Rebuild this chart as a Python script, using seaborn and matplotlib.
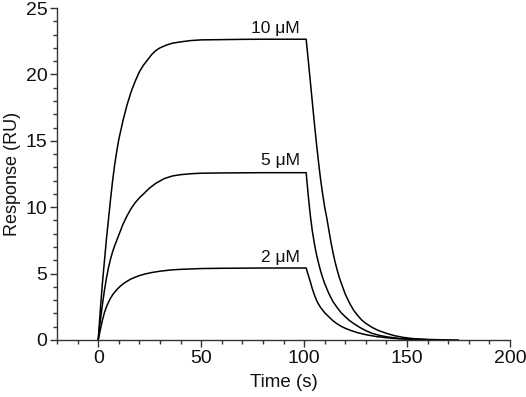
import pandas as pd
import matplotlib
matplotlib.use("Agg")
import matplotlib.pyplot as plt
import seaborn as sns
from matplotlib.ticker import MultipleLocator

# values (time in s, response in RU)
t_10 = [0, 1, 2, 3, 4, 5, 6, 7, 8, 9, 10, 11, 12, 13, 14, 15, 16, 18, 20, 22, 24, 26,
        28, 30, 33, 36, 40, 45, 50, 60, 70, 80, 90, 101,
        102, 103, 104, 105, 106, 107, 108, 109, 110, 111, 112, 113, 114, 115, 116, 117,
        118, 120, 122, 124, 126, 128, 130, 133, 136, 140, 144, 148, 152, 156, 160, 166, 175]
ru_10 = [0, 2.2, 4.2, 5.9, 7.6, 9.1, 10.6, 12.0, 13.2, 14.2, 15.1, 15.8, 16.5, 17.1, 17.7,
         18.2, 18.7, 19.5, 20.2, 20.7, 21.1, 21.5, 21.8, 22.0, 22.2, 22.35, 22.45, 22.55,
         22.6, 22.62, 22.64, 22.65, 22.65, 22.65,
         21.1, 19.5, 17.9, 16.3, 14.8, 13.4, 12.1, 11.0, 10.0, 9.2, 8.3, 7.4, 6.6, 5.9, 5.3,
         4.75, 4.3, 3.45, 2.8, 2.25, 1.85, 1.5, 1.25, 0.95, 0.72, 0.5, 0.32, 0.2, 0.12, 0.07,
         0.04, 0.02, 0]

t_5 = [0, 1, 2, 3, 4, 5, 6, 7, 8, 10, 12, 14, 16, 18, 20, 22, 25, 28, 32, 36, 40, 45, 50,
       60, 80, 101,
       102, 103, 104, 105, 106, 107, 108, 109, 110, 112, 114, 116, 118, 120, 122, 124, 127,
       130, 133, 137, 141, 146, 152, 160, 170]
ru_5 = [0, 1.4, 2.6, 3.7, 4.65, 5.45, 6.1, 6.65, 7.1, 7.9, 8.7, 9.35, 9.9, 10.35, 10.7,
        11.0, 11.45, 11.8, 12.15, 12.35, 12.45, 12.52, 12.56, 12.58, 12.6, 12.6,
        10.9, 9.4, 8.2, 7.25, 6.45, 5.8, 5.2, 4.7, 4.25, 3.5, 2.9, 2.45, 2.05, 1.75, 1.47,
        1.25, 0.95, 0.7, 0.5, 0.33, 0.22, 0.12, 0.06, 0.02, 0]

t_2 = [0, 1, 2, 3, 4, 5, 6, 7, 8, 10, 12, 14, 16, 18, 20, 23, 26, 30, 35, 40, 50, 60, 80,
       101,
       102, 103, 104, 105, 106, 107, 108, 110, 112, 114, 116, 118, 120, 123, 126, 130, 135,
       140, 146, 152, 160, 168]
ru_2 = [0, 0.75, 1.45, 2.05, 2.5, 2.85, 3.15, 3.4, 3.6, 3.95, 4.22, 4.42, 4.6, 4.73, 4.85,
        4.98, 5.08, 5.18, 5.27, 5.32, 5.38, 5.4, 5.42, 5.42,
        4.9, 4.4, 3.85, 3.4, 3.0, 2.7, 2.45, 2.05, 1.75, 1.45, 1.22, 1.03, 0.88, 0.7, 0.55,
        0.4, 0.26, 0.17, 0.09, 0.05, 0.02, 0]

labels = ["10 \u03bcM", "5 \u03bcM", "2 \u03bcM"]

df = pd.concat([
    pd.DataFrame({"time": t_10, "ru": ru_10, "conc": labels[0]}),
    pd.DataFrame({"time": t_5, "ru": ru_5, "conc": labels[1]}),
    pd.DataFrame({"time": t_2, "ru": ru_2, "conc": labels[2]}),
])

sns.set_style("ticks")
plt.rcParams["font.family"] = ["Liberation Sans", "DejaVu Sans"]

fig = plt.figure(figsize=(5.26, 3.97), dpi=100)
ax = fig.add_axes([0.1084, 0.1436, 0.8612, 0.8362])

for c in labels:
    sub = df[df["conc"] == c]
    sns.lineplot(data=sub, x="time", y="ru", ax=ax, color="black", lw=1.1,
                 sort=False, estimator=None, legend=False, solid_joinstyle="round")

# concentration labels just above each plateau
label_y = [23.15, 13.15, 5.85]
for c, y in zip(labels, label_y):
    ax.text(98, y, c, ha="right", va="baseline", fontsize=12.5, color="#111111")

ax.set_xlim(-20, 200)
ax.set_ylim(0, 25)
ax.xaxis.set_major_locator(MultipleLocator(50))
ax.xaxis.set_minor_locator(MultipleLocator(10))
ax.yaxis.set_major_locator(MultipleLocator(5))
ax.yaxis.set_minor_locator(MultipleLocator(1))
ax.tick_params(which="major", length=5, width=1, labelsize=14, pad=2,
               color="#333333", labelcolor="#111111")
ax.tick_params(which="minor", length=3, width=1, color="#333333")
for s in ["left", "bottom"]:
    ax.spines[s].set_linewidth(1.0)
    ax.spines[s].set_color("#333333")
sns.despine(ax=ax)

ax.set_xlabel("Time (s)", fontsize=13.5, labelpad=5, color="#111111")
ax.set_ylabel("Response (RU)", fontsize=13, labelpad=3, color="#111111")

fig.savefig("out.png", dpi=100)
